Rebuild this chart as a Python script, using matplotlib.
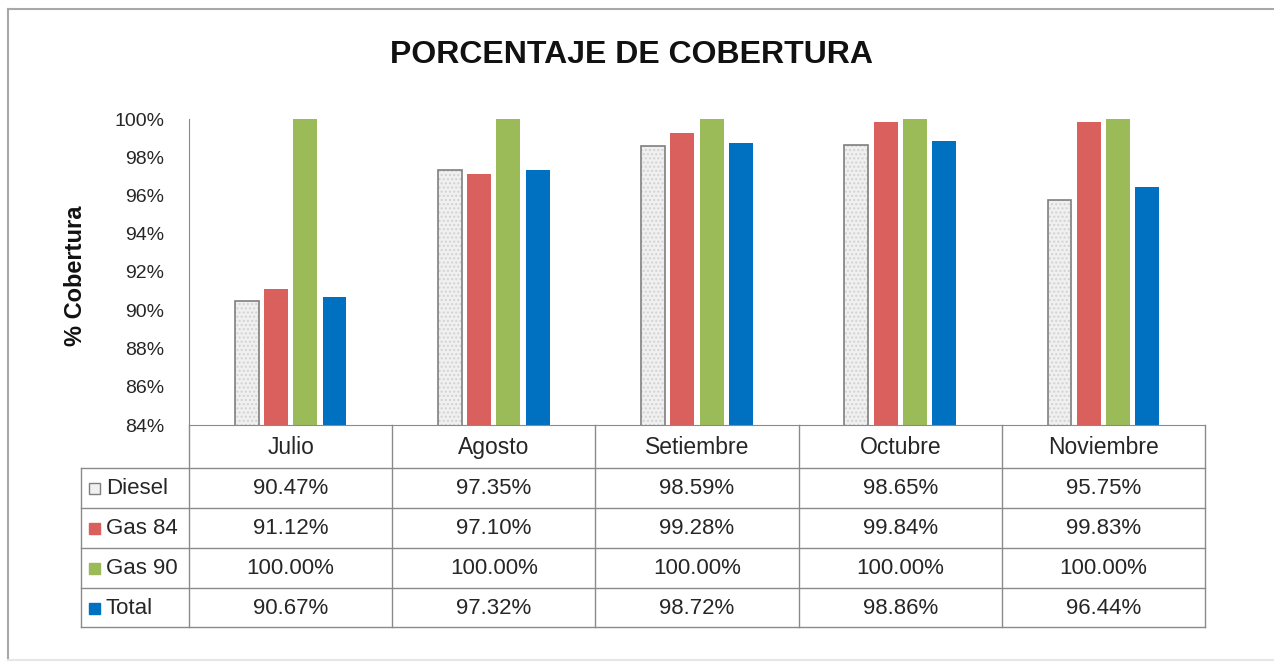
import numpy as np
import matplotlib.pyplot as plt
from matplotlib.patches import Rectangle

plt.rcParams['font.family'] = ['Liberation Sans', 'DejaVu Sans']

meses = ['Julio', 'Agosto', 'Setiembre', 'Octubre', 'Noviembre']
series = ['Diesel', 'Gas 84', 'Gas 90', 'Total']
diesel = [90.47, 97.35, 98.59, 98.65, 95.75]
gas84 = [91.12, 97.10, 99.28, 99.84, 99.83]
gas90 = [100.00, 100.00, 100.00, 100.00, 100.00]
total = [90.67, 97.32, 98.72, 98.86, 96.44]
yticks = [84, 86, 88, 90, 92, 94, 96, 98, 100]

W, H = 1274, 665
colors = ['#f0f0f0', '#d9605d', '#9bbb59', '#0070c0']
grid_c = '#8a8a8a'

fig = plt.figure(figsize=(W / 100, H / 100), dpi=100)

# full-figure canvas in pixel coordinates for frame, title and table
cv = fig.add_axes([0, 0, 1, 1])
cv.set_xlim(0, W)
cv.set_ylim(H, 0)
cv.axis('off')

# bar area
x0, x1, ytop, ybot = 189, 1205, 119, 425
ax = fig.add_axes([x0 / W, 1 - ybot / H, (x1 - x0) / W, (ybot - ytop) / H])
ax.set_xlim(-0.5, 4.5)
ax.set_ylim(84, 100)

x = np.arange(len(meses))
step, bw = 0.144, 0.118
vals = [diesel, gas84, gas90, total]
for i, v in enumerate(vals):
    pos = x + (i - 1.5) * step
    if i == 0:
        ax.bar(pos, v, bw, color=colors[0], edgecolor='#d2d2d2', hatch='....', linewidth=0)
        ax.bar(pos, v, bw, fill=False, edgecolor='#7f7f7f', linewidth=1.2)
    else:
        ax.bar(pos, v, bw, color=colors[i], linewidth=0)

ax.set_yticks(yticks)
ax.set_yticklabels([f'{t}%' for t in yticks], fontsize=14, color='#262626')
ax.tick_params(axis='y', length=0, pad=18)
ax.set_xticks([])
for s in ['top', 'right']:
    ax.spines[s].set_visible(False)
ax.spines['left'].set_color(grid_c)
ax.spines['bottom'].set_color(grid_c)
ax.patch.set_alpha(0)

ax.set_ylabel('% Cobertura', fontsize=17, fontweight='bold', color='#111111')
ax.yaxis.set_label_coords((87 - x0) / (x1 - x0), (ybot - 276) / (ybot - ytop))

# title
cv.text(631, 55, 'PORCENTAJE DE COBERTURA', fontsize=23, fontweight='bold',
        ha='center', va='center', color='#111111')

# outer frame
cv.plot([8, 8], [9, 660], color='#a8a8a8', lw=1.5)
cv.plot([8, 1274], [9, 9], color='#a8a8a8', lw=1.5)
cv.plot([8, 1274], [660, 660], color='#e6e6e6', lw=1.5)

# data table
colw = (x1 - x0) / len(meses)
row_y = [468, 508, 548, 588, 627]
lx = 81
for y in row_y:
    cv.plot([lx, x1], [y, y], color=grid_c, lw=1)
cv.plot([lx, lx], [row_y[0], row_y[-1]], color=grid_c, lw=1)
cv.plot([x0, x0], [ybot, row_y[-1]], color=grid_c, lw=1)
for j in range(1, len(meses) + 1):
    xc = x0 + j * colw
    cv.plot([xc, xc], [ybot, row_y[-1]], color=grid_c, lw=1)

for j, m in enumerate(meses):
    cv.text(x0 + (j + 0.5) * colw, (ybot + row_y[0]) / 2 + 1, m, fontsize=16.5,
            ha='center', va='center', color='#262626')

for i, (name, v) in enumerate(zip(series, vals)):
    yc = (row_y[i] + row_y[i + 1]) / 2 + 1
    ec = '#7f7f7f' if i == 0 else colors[i]
    cv.add_patch(Rectangle((89, yc - 6), 11, 11, facecolor=colors[i], edgecolor=ec, lw=1))
    cv.text(106, yc, name, fontsize=16, ha='left', va='center', color='#262626')
    for j, val in enumerate(v):
        cv.text(x0 + (j + 0.5) * colw, yc, f'{val:.2f}%', fontsize=16,
                ha='center', va='center', color='#262626')

fig.savefig('out.png', dpi=100)
